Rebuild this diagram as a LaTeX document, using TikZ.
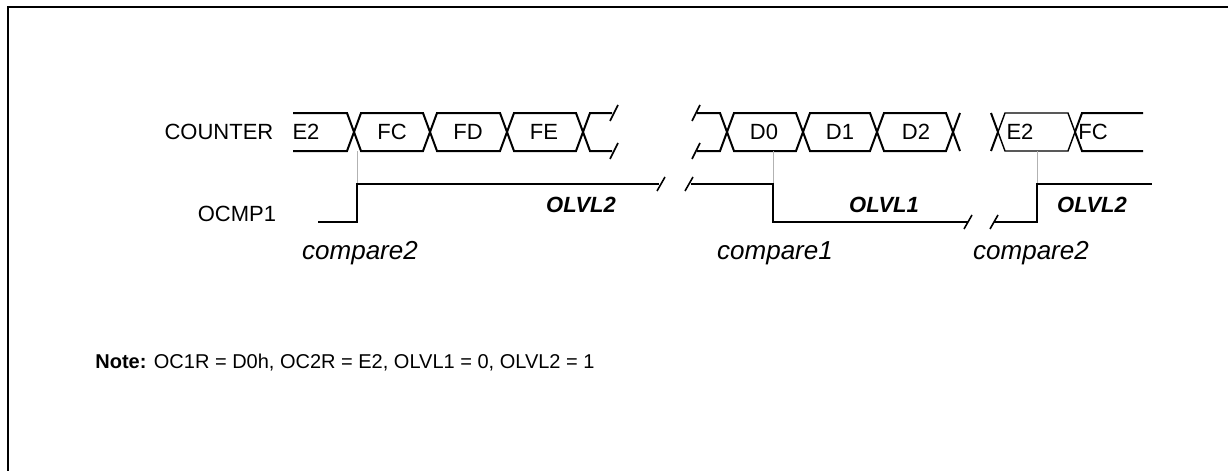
\documentclass[tikz,border=0pt]{standalone}
\usepackage{fontspec}
\setmainfont{Liberation Sans}

\begin{document}
\begin{tikzpicture}[x=0.5pt,y=-0.5pt]
\tikzset{wave/.style={line width=1pt,black,line join=miter},
  guide/.style={line width=0.4pt,gray!60},
  brk/.style={line width=0.8pt},
  lbl/.style={inner sep=0pt,font=\fontsize{11}{13}\selectfont},
  lvl/.style={inner sep=0pt,font=\fontsize{11}{13}\selectfont\bfseries\itshape},
  cmp/.style={inner sep=0pt,font=\fontsize{13}{15}\selectfont\itshape}};
\clip (0,0) rectangle (1228,471);
\useasboundingbox (0,0) rectangle (1228,471);
% frame
\draw[line width=1pt] (1240,7) -- (8,7) -- (8,480);
% signal names
\node[lbl] (counter) at (219,132) {COUNTER};
\node[lbl] (ocmp) at (237,214) {OCMP1};
% counter bus, first part
\draw[wave] (293,113) -- (347,113) -- (354,132) -- (347,151) -- (293,151);
\draw[wave] (354,132) -- (361,113) -- (423,113) -- (430,132) -- (423,151) -- (361,151) -- cycle;
\draw[wave] (430,132) -- (437,113) -- (500,113) -- (507,132) -- (500,151) -- (437,151) -- cycle;
\draw[wave] (507,132) -- (514,113) -- (576,113) -- (583,132) -- (576,151) -- (514,151) -- cycle;
\draw[wave] (612,113) -- (590,113) -- (583,132) -- (590,151) -- (612,151);
\draw[brk] (610,121) -- (618,105);
\draw[brk] (610,159) -- (618,143);
% counter bus, second part
\draw[brk] (692,121) -- (700,105);
\draw[brk] (692,159) -- (700,143);
\draw[wave] (697,113) -- (720,113) -- (727,132) -- (720,151) -- (697,151);
\draw[wave] (727,132) -- (734,113) -- (796,113) -- (803,132) -- (796,151) -- (734,151) -- cycle;
\draw[wave] (803,132) -- (810,113) -- (870,113) -- (877,132) -- (870,151) -- (810,151) -- cycle;
\draw[wave] (877,132) -- (884,113) -- (946,113) -- (953,132) -- (946,151) -- (884,151) -- cycle;
\draw[wave] (960,113) -- (953,132) -- (960,151);
% counter bus, third part
\draw[wave] (991,113) -- (998,132) -- (991,151);
\draw[wave,line width=0.7pt] (998,132) -- (1005,113) -- (1068,113) -- (1075,132) -- (1068,151) -- (1005,151) -- cycle;
\draw[wave] (1143,113) -- (1082,113) -- (1075,132) -- (1082,151) -- (1143,151);
% counter values
\node[lbl] (e2a) at (306,132) {E2};
\node[lbl] (fca) at (392,132) {FC};
\node[lbl] (fd) at (468,132) {FD};
\node[lbl] (fe) at (544,132) {FE};
\node[lbl] (d0) at (764,132) {D0};
\node[lbl] (d1) at (840,132) {D1};
\node[lbl] (d2) at (916,132) {D2};
\node[lbl] (e2b) at (1020,132) {E2};
\node[lbl] (fcb) at (1093,132) {FC};
% compare marks
\draw[guide] (357,151) -- (357,184);
\draw[guide] (773,151) -- (773,184);
\draw[guide] (1037,151) -- (1037,184);
% OCMP1 output
\draw[wave] (318,222) -- (357,222) -- (357,184) -- (659,184);
\draw[brk] (657,191) -- (665,177);
\draw[brk] (685,191) -- (693,177);
\draw[wave] (691,184) -- (773,184) -- (773,222) -- (968,222);
\draw[brk] (964,229) -- (972,215);
\draw[brk] (990,229) -- (998,215);
\draw[wave] (994,222) -- (1037,222) -- (1037,184) -- (1152,184);
% levels
\node[lvl] (lvla) at (581,205) {OLVL2};
\node[lvl] (lvlb) at (884,205) {OLVL1};
\node[lvl] (lvlc) at (1092,205) {OLVL2};
\node[cmp] (cmpa) at (360,253) {compare2};
\node[cmp] (cmpb) at (775,253) {compare1};
\node[cmp] (cmpc) at (1031,253) {compare2};
% note
\node[inner sep=0pt,anchor=west,font=\fontsize{10}{12}\selectfont] (note) at (95,363)
  {\textbf{Note:} OC1R = D0h, OC2R = E2, OLVL1 = 0, OLVL2 = 1};
\end{tikzpicture}
\end{document}
